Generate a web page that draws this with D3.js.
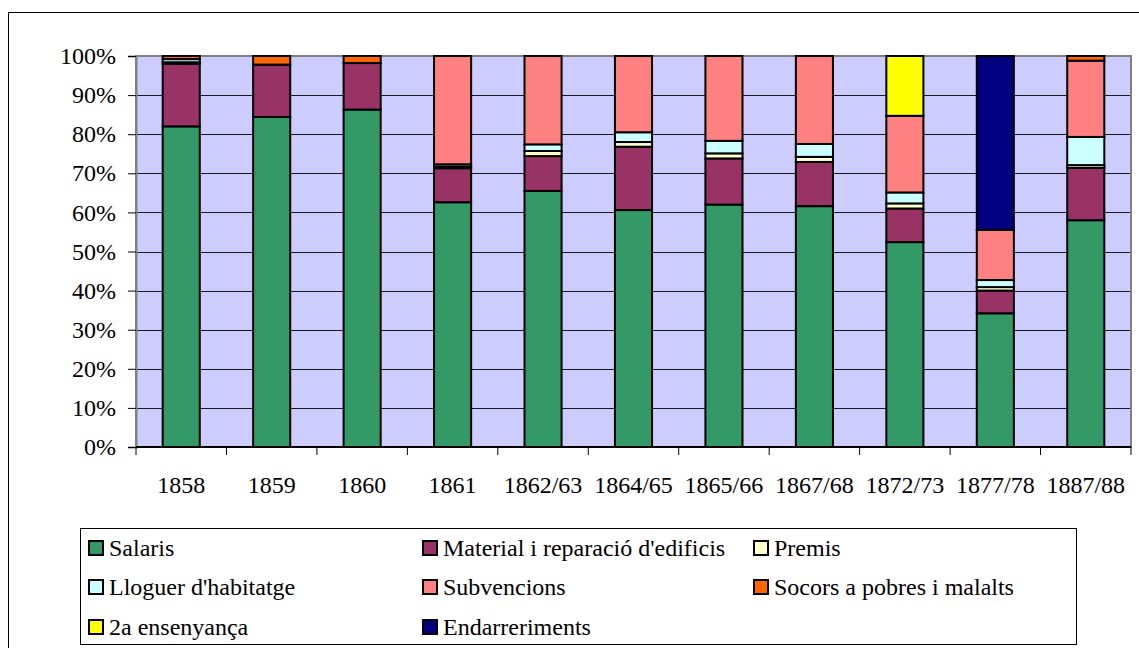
<!DOCTYPE html>
<html>
<head>
<meta charset="UTF-8">
<title>Despeses per partides</title>
<script src="https://d3js.org/d3.v7.min.js"></script>
<style>
    body { margin: 0; padding: 0; background: #fff; }
    svg, svg text { font-family: "Liberation Serif", Tinos, "Times New Roman", Times, serif !important; }
</style>
</head>
<body>
<script>
// categories (years) and series values, in percent of each year's total
const years = ["1858", "1859", "1860", "1861", "1862/63", "1864/65", "1865/66", "1867/68", "1872/73", "1877/78", "1887/88"];
const salaris     = [82.0, 84.4, 86.3, 62.6, 65.5, 60.6, 62.0, 61.6, 52.4, 34.2, 58.0];
const material    = [16.0, 13.4, 11.9,  8.7,  8.9, 16.2, 11.8, 11.3,  8.6,  5.8, 13.4];
const premis      = [ 0.4,  0,    0,    0.4,  1.3,  1.2,  1.3,  1.3,  1.3,  0.9,  0.7];
const lloguer     = [ 0.8,  0,    0,    0.6,  1.7,  2.5,  3.2,  3.3,  2.8,  1.8,  7.2];
const subvencions = [ 0,    0,    0,   27.7, 22.6, 19.5, 21.7, 22.5, 19.6, 12.8, 19.5];
const socors      = [ 0.8,  2.2,  1.8,  0,    0,    0,    0,    0,    0,    0,    1.2];
const segona      = [ 0,    0,    0,    0,    0,    0,    0,    0,   15.3,  0,    0];
const endarr      = [ 0,    0,    0,    0,    0,    0,    0,    0,    0,   44.5,  0];

const seriesNames = ["Salaris", "Material i reparació d'edificis", "Premis", "Lloguer d'habitatge",
                     "Subvencions", "Socors a pobres i malalts", "2a ensenyança", "Endarreriments"];
const seriesValues = [salaris, material, premis, lloguer, subvencions, socors, segona, endarr];
const seriesColors = ["#339966", "#993366", "#ffffcc", "#ccffff", "#ff8080", "#ff6600", "#ffff00", "#000080"];
const yTicks = [0, 0.1, 0.2, 0.3, 0.4, 0.5, 0.6, 0.7, 0.8, 0.9, 1];

const FONT = "Liberation Serif";
const W = 1139, H = 648;
const plot = { left: 136, right: 1131, top: 56, bottom: 447 };

const svg = d3.select("body").append("svg")
    .attr("width", W)
    .attr("height", H)
    .style("display", "block");

// outer chart frame
svg.append("rect")
    .attr("x", 8.5).attr("y", 12.5)
    .attr("width", W + 10).attr("height", H + 10)
    .attr("fill", "#fff").attr("stroke", "#000").attr("stroke-width", 1);

// build rows for d3.stack
const rows = years.map((y, i) => {
    const r = { year: y };
    seriesNames.forEach((s, k) => r[s] = seriesValues[k][i]);
    return r;
});
const stacked = d3.stack().keys(seriesNames).offset(d3.stackOffsetExpand)(rows);

const x = d3.scaleBand()
    .domain(years)
    .range([plot.left, plot.right])
    .paddingInner(0.59)
    .paddingOuter(0.295);

const y = d3.scaleLinear()
    .domain([0, 1])
    .range([plot.bottom, plot.top]);

// plot background
svg.append("rect")
    .attr("x", plot.left).attr("y", plot.top)
    .attr("width", plot.right - plot.left).attr("height", plot.bottom - plot.top)
    .attr("fill", "#ccccff");

// horizontal gridlines
svg.append("g")
    .selectAll("line")
    .data(yTicks.slice(1, -1))
    .enter().append("line")
    .attr("x1", plot.left).attr("x2", plot.right)
    .attr("y1", d => Math.round(y(d)) + 0.5).attr("y2", d => Math.round(y(d)) + 0.5)
    .attr("stroke", "#1a1a1a").attr("stroke-width", 1);

// plot border
svg.append("rect")
    .attr("x", plot.left).attr("y", plot.top)
    .attr("width", plot.right - plot.left).attr("height", plot.bottom - plot.top)
    .attr("fill", "none").attr("stroke", "#808080").attr("stroke-width", 2);

// stacked bars
svg.append("g")
    .selectAll("g")
    .data(stacked)
    .enter().append("g")
    .attr("fill", (d, i) => seriesColors[i])
    .selectAll("rect")
    .data(d => d.filter(p => p[1] - p[0] > 0))
    .enter().append("rect")
    .attr("x", d => x(d.data.year))
    .attr("y", d => y(d[1]))
    .attr("width", x.bandwidth())
    .attr("height", d => y(d[0]) - y(d[1]))
    .attr("stroke", "#000")
    .attr("stroke-width", 2);

// y axis
const yAxis = svg.append("g")
    .attr("transform", `translate(${plot.left},0)`)
    .call(d3.axisLeft(y).tickValues(yTicks).tickFormat(d3.format(".0%")).tickSize(8).tickPadding(12));
yAxis.attr("font-family", null);
yAxis.select(".domain").attr("stroke", "#808080").attr("stroke-width", 2);
yAxis.selectAll(".tick line").attr("stroke", "#000");
yAxis.selectAll("text")
    .attr("fill", "#000")
    .attr("font-family", FONT)
    .attr("font-size", 24);

// x axis: ticks on category boundaries
const step = x.step();
const bounds = years.map(c => x(c) - step * x.paddingOuter()).concat([plot.right]);
svg.append("line")
    .attr("x1", plot.left).attr("x2", plot.right)
    .attr("y1", plot.bottom).attr("y2", plot.bottom)
    .attr("stroke", "#000").attr("stroke-width", 2);
svg.append("g")
    .selectAll("line")
    .data(bounds)
    .enter().append("line")
    .attr("x1", d => d).attr("x2", d => d)
    .attr("y1", plot.bottom).attr("y2", plot.bottom + 8)
    .attr("stroke", "#000");
svg.append("g")
    .selectAll("text")
    .data(years)
    .enter().append("text")
    .attr("x", d => x(d) + x.bandwidth() / 2)
    .attr("y", 493)
    .attr("text-anchor", "middle")
    .attr("font-family", FONT)
    .attr("font-size", 24)
    .text(d => d);

// legend
const legendCols = [88, 422, 753];
const legendRows = [548, 587, 627];
svg.append("rect")
    .attr("x", 80.5).attr("y", 528.5)
    .attr("width", 996).attr("height", 116)
    .attr("fill", "#fff").attr("stroke", "#000").attr("stroke-width", 1);

const items = svg.append("g")
    .selectAll("g")
    .data(seriesNames)
    .enter().append("g")
    .attr("transform", (d, i) => `translate(${legendCols[i % 3]},${legendRows[Math.floor(i / 3)]})`);
items.append("rect")
    .attr("x", 1).attr("y", -7)
    .attr("width", 14).attr("height", 14)
    .attr("fill", (d, i) => seriesColors[i])
    .attr("stroke", "#000").attr("stroke-width", 2);
items.append("text")
    .attr("x", 21).attr("y", 8)
    .attr("font-family", FONT)
    .attr("font-size", 24)
    .text(d => d);
</script>
</body>
</html>
